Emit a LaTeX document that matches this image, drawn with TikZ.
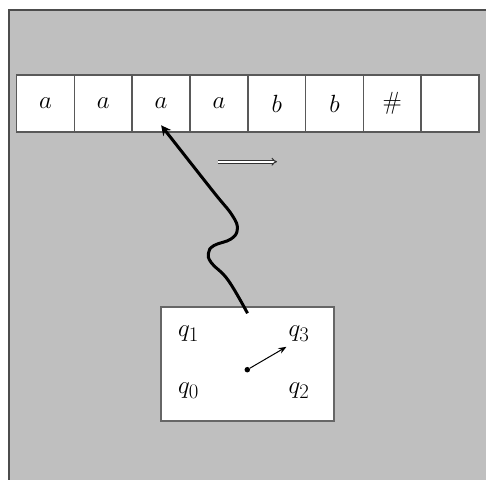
\documentclass[tikz,border=0pt]{standalone}
\usetikzlibrary{arrows.meta}
\begin{document}
\begin{tikzpicture}[x=1pt,y=-1pt,
  cellbox/.style={draw=black!65,line width=1.6pt,fill=white,minimum width=57.8pt,minimum height=57pt,inner sep=0pt,font=\Huge},
  lbl/.style={inner sep=0pt,font=\Huge}]
\useasboundingbox (0,0) rectangle (486,479);
\fill[white] (0,0) rectangle (486,479);
\fill[lightgray] (9,10) rectangle (492,485);
\draw[black!70,line width=1.6pt] (9,485) -- (9,10) -- (492,10);
% tape
\foreach \i/\t in {1/$a$,2/$a$,3/$a$,4/$a$,5/$b$,6/$b$,7/{$\#$},8/{}}{
  \node[cellbox] (c\i) at ({16.6+57.8*(\i-0.5)},103.5) {\t};
}
% head box
\node[draw=black!60,line width=1.5pt,fill=white,minimum width=173pt,minimum height=114pt,inner sep=0pt] (box) at (247.5,364) {};
\node[lbl] (q1) at (188.5,334) {$q_1$};
\node[lbl] (q3) at (299,334) {$q_3$};
\node[lbl] (q0) at (188.5,391) {$q_0$};
\node[lbl] (q2) at (299,391) {$q_2$};
\node[circle,fill=black,inner sep=0pt,minimum size=5.5pt] (dot) at (247.3,369.7) {};
\coordinate (tip) at (286.5,346.8);
\draw[line width=1pt,-{Stealth[length=8pt,width=6pt]}] (dot) -- (tip);
% wavy read head connector
\coordinate (s) at ([yshift=-7pt]box.north);
\coordinate (e) at ([yshift=7.5pt]c3.south);
\coordinate (p0) at (228,280);
\coordinate (p1) at (211.5,263);
\coordinate (p2) at (208.5,253);
\coordinate (p3) at (214,245.5);
\coordinate (p4) at (231,239);
\coordinate (p5) at (237.3,229);
\coordinate (p6) at (232,215);
\coordinate (p7) at (212,190);
\draw[line width=3pt,-{Stealth[length=10pt,width=10pt]}] plot[smooth,tension=0.7] coordinates {(s) (p0) (p1) (p2) (p3) (p4) (p5) (p6) (p7) (e)};
% direction arrow
\coordinate (d1) at (218,161.7);
\coordinate (d2) at (277,161.7);
\draw[double,double distance=1.6pt,line width=1pt,draw=black!80,-{Implies}] (d1) -- (d2);
\end{tikzpicture}
\end{document}
